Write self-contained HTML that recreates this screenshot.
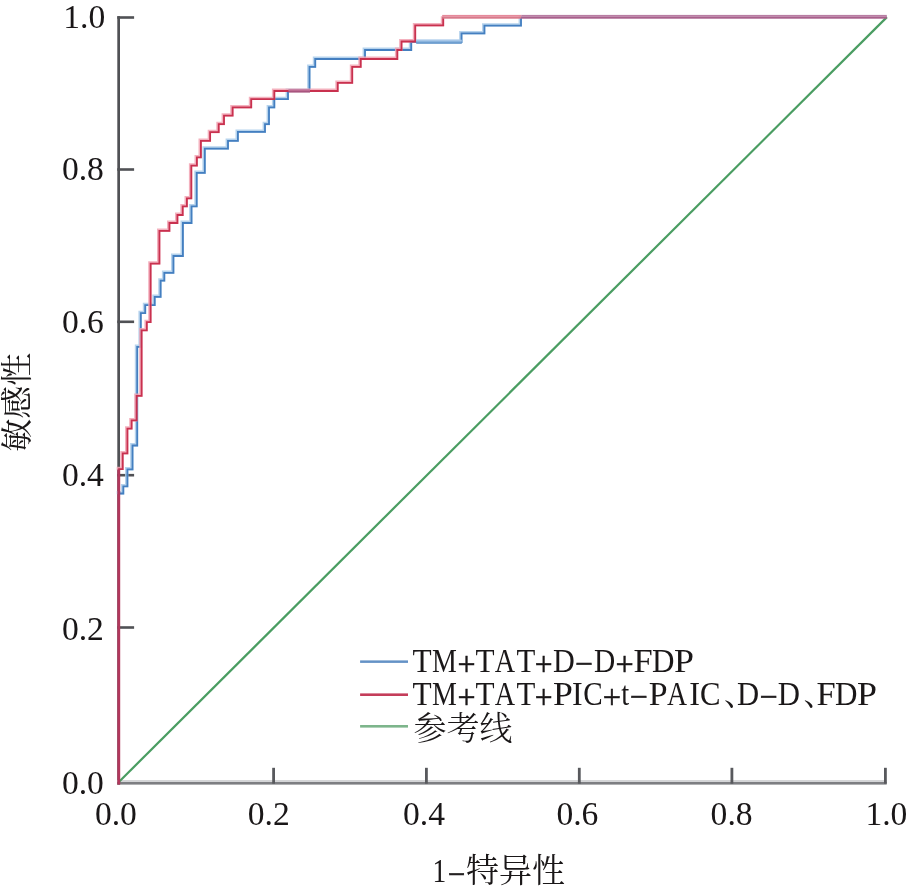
<!DOCTYPE html>
<html lang="zh"><head><meta charset="utf-8"><title>ROC</title>
<style>
html,body{margin:0;padding:0;background:#fff;}
body{width:907px;height:887px;overflow:hidden;}
svg{display:block;will-change:transform;}
text{font-family:"Liberation Serif","Noto Serif CJK SC",serif;}
.cjk{font-family:"Noto Serif CJK SC","Liberation Serif",serif;font-weight:400;}
.lt{font-weight:300;}
</style></head><body>
<svg width="907" height="887" viewBox="0 0 907 887">
<rect width="907" height="887" fill="#fff"/>

<g id="axes">
<rect x="117.3" y="16.2" width="2.7" height="768.4" fill="#505155"/>
<rect x="117.3" y="780.0" width="769.4" height="2.0" fill="#d4d5d7"/>
<rect x="117.3" y="782.0" width="769.4" height="2.6" fill="#7d7e82"/>
<rect x="117.3" y="16.2" width="16.8" height="2.6" fill="#505155"/>
<rect x="117.3" y="168.2" width="16.8" height="2.6" fill="#505155"/>
<rect x="117.3" y="320.5" width="16.8" height="2.6" fill="#505155"/>
<rect x="117.3" y="473.9" width="16.8" height="2.6" fill="#505155"/>
<rect x="117.3" y="626.2" width="16.8" height="2.6" fill="#505155"/>
<rect x="272.2" y="767.8" width="2.8" height="15.9" fill="#58595d"/>
<rect x="425.0" y="767.8" width="2.8" height="15.9" fill="#58595d"/>
<rect x="577.9" y="767.8" width="2.8" height="15.9" fill="#58595d"/>
<rect x="730.5" y="767.8" width="2.8" height="15.9" fill="#58595d"/>
<rect x="884.0" y="767.8" width="2.8" height="15.9" fill="#58595d"/>
</g>
<line x1="118.6" y1="782.2" x2="886.9" y2="17.1" stroke="#4a9d62" stroke-width="2.2"/>
<g fill="none" stroke-linejoin="miter">
<path d="M119.1 495.0 V493.5 H123.3 V486.3 H127.4 V469.4 H132.5 V445.5 H137.2 V346.8 H140.8 V313.1 H145.2 V305.1 H154.7 V296.9 H160.6 V280.7 H164.3 V272.8 H173.4 V256.0 H182.9 V223.0 H191.5 V206.3 H196.7 V172.9 H204.8 V148.7 H228.0 V140.8 H237.9 V131.9 H265.0 V124.2 H269.0 V107.4 H274.3 V99.1 H288.0 V91.0 H309.5 V66.9 H315.2 V59.0 H365.0 V50.0 H411.2 V42.0 H461.5 V33.4 H484.4 V25.6 H521.0 V16.9" stroke="#a9cbea" stroke-width="3.4" transform="translate(-0.7 -0.7)" stroke-opacity="0.85"/>
<path d="M119.1 495.0 V493.5 H123.3 V486.3 H127.4 V469.4 H132.5 V445.5 H137.2 V346.8 H140.8 V313.1 H145.2 V305.1 H154.7 V296.9 H160.6 V280.7 H164.3 V272.8 H173.4 V256.0 H182.9 V223.0 H191.5 V206.3 H196.7 V172.9 H204.8 V148.7 H228.0 V140.8 H237.9 V131.9 H265.0 V124.2 H269.0 V107.4 H274.3 V99.1 H288.0 V91.0 H309.5 V66.9 H315.2 V59.0 H365.0 V50.0 H411.2 V42.0 H461.5 V33.4 H484.4 V25.6 H521.0 V16.9" stroke="#447fc0" stroke-width="1.8"/>
<path d="M119.1 471.0 V469.1 H122.7 V453.4 H127.4 V428.6 H131.6 V420.4 H136.6 V395.8 H141.6 V330.3 H146.8 V322.1 H150.6 V263.6 H159.4 V230.9 H169.4 V223.0 H177.4 V215.0 H182.7 V206.3 H186.9 V198.3 H191.3 V165.6 H196.9 V157.3 H200.9 V140.8 H210.1 V132.2 H218.7 V124.2 H224.0 V115.6 H232.6 V107.4 H251.2 V99.1 H274.3 V91.0 H337.7 V82.8 H352.2 V66.9 H360.7 V59.0 H397.3 V50.0 H401.5 V41.5 H415.2 V25.4 H443.2 V16.9" stroke="#f2a3b3" stroke-width="3.4" transform="translate(-0.7 -0.7)" stroke-opacity="0.85"/>
<path d="M119.1 471.0 V469.1 H122.7 V453.4 H127.4 V428.6 H131.6 V420.4 H136.6 V395.8 H141.6 V330.3 H146.8 V322.1 H150.6 V263.6 H159.4 V230.9 H169.4 V223.0 H177.4 V215.0 H182.7 V206.3 H186.9 V198.3 H191.3 V165.6 H196.9 V157.3 H200.9 V140.8 H210.1 V132.2 H218.7 V124.2 H224.0 V115.6 H232.6 V107.4 H251.2 V99.1 H274.3 V91.0 H337.7 V82.8 H352.2 V66.9 H360.7 V59.0 H397.3 V50.0 H401.5 V41.5 H415.2 V25.4 H443.2 V16.9" stroke="#c42645" stroke-width="1.8" stroke-opacity="0.92"/>
</g>
<rect x="442.2" y="14.9" width="79.4" height="1.9" fill="#e58a9b"/>
<rect x="442.2" y="16.8" width="79.4" height="1.9" fill="#d87a8b"/>
<rect x="521.4" y="14.9" width="365.4" height="1.9" fill="#b87da3"/>
<rect x="521.4" y="16.8" width="365.4" height="1.9" fill="#a8608c"/>
<rect x="288.4" y="89.2" width="21.6" height="1.7" fill="#c0789e"/>
<rect x="288.4" y="90.9" width="21.6" height="1.7" fill="#a8557f"/>
<rect x="416.2" y="39.7" width="45.6" height="2.1" fill="#a7c7e8"/>
<rect x="416.2" y="41.8" width="45.6" height="2.1" fill="#6f9fd0"/>
<rect x="117.3" y="469.5" width="2.9" height="315.1" fill="#b1375c"/>
<g font-size="34.6" fill="#1a1718">
<text transform="translate(63.2 27.9) scale(0.972 1)">1.0</text>
<text transform="translate(61.9 180.0) scale(0.972 1)">0.8</text>
<text transform="translate(61.9 332.9) scale(0.972 1)">0.6</text>
<text transform="translate(61.9 485.9) scale(0.972 1)">0.4</text>
<text transform="translate(61.9 640.0) scale(0.972 1)">0.2</text>
<text transform="translate(61.9 794.0) scale(0.972 1)">0.0</text>
</g>
<g font-size="34.6" fill="#1a1718">
<text transform="translate(94.9 824.6) scale(0.972 1)">0.0</text>
<text transform="translate(247.8 824.6) scale(0.972 1)">0.2</text>
<text transform="translate(403.0 824.6) scale(0.972 1)">0.4</text>
<text transform="translate(556.4 824.6) scale(0.972 1)">0.6</text>
<text transform="translate(710.6 824.6) scale(0.972 1)">0.8</text>
<text transform="translate(865.4 824.6) scale(0.972 1)">1.0</text>
</g>
<text class="cjk" font-size="33" fill="#1a1718" text-anchor="middle" transform="translate(27.6 402.3) rotate(-90) scale(1 0.95)">敏感性</text>
<text font-size="33" fill="#1a1718"><tspan x="432.59" y="882.00" textLength="13.76" lengthAdjust="spacingAndGlyphs">1</tspan><tspan x="447.79" y="885.00" textLength="17.59" lengthAdjust="spacingAndGlyphs" stroke="#1a1718" stroke-width="0.5">−</tspan><tspan class="cjk" font-size="33" x="466.00" y="881.50">特异性</tspan></text>
<g id="legend">
<rect x="360.1" y="660.4" width="47.9" height="2.5" fill="#6492c6"/>
<rect x="360.1" y="693.4" width="47.9" height="2.6" fill="#c43d5a"/>
<rect x="360.1" y="725.0" width="47.9" height="2.6" fill="#7db58b"/>
<text font-size="33.5" fill="#1a1718"><tspan x="412.55" y="672.00" textLength="19.15" lengthAdjust="spacingAndGlyphs">T</tspan><tspan x="431.96" y="672.00" textLength="24.85" lengthAdjust="spacingAndGlyphs">M</tspan><tspan x="457.55" y="675.00" textLength="18.07" lengthAdjust="spacingAndGlyphs" stroke="#1a1718" stroke-width="0.5">+</tspan><tspan x="475.45" y="672.00" textLength="19.04" lengthAdjust="spacingAndGlyphs">T</tspan><tspan x="494.82" y="672.00" textLength="20.39" lengthAdjust="spacingAndGlyphs">A</tspan><tspan x="516.46" y="672.00" textLength="18.83" lengthAdjust="spacingAndGlyphs">T</tspan><tspan x="534.67" y="675.00" textLength="17.83" lengthAdjust="spacingAndGlyphs" stroke="#1a1718" stroke-width="0.5">+</tspan><tspan x="553.09" y="672.00" textLength="21.80" lengthAdjust="spacingAndGlyphs">D</tspan><tspan x="575.17" y="675.00" textLength="17.83" lengthAdjust="spacingAndGlyphs" stroke="#1a1718" stroke-width="0.5">−</tspan><tspan x="594.02" y="672.00" textLength="21.25" lengthAdjust="spacingAndGlyphs">D</tspan><tspan x="615.54" y="675.00" textLength="18.19" lengthAdjust="spacingAndGlyphs" stroke="#1a1718" stroke-width="0.5">+</tspan><tspan x="633.47" y="672.00" textLength="19.18" lengthAdjust="spacingAndGlyphs">F</tspan><tspan x="652.07" y="672.00" textLength="22.47" lengthAdjust="spacingAndGlyphs">D</tspan><tspan x="673.92" y="672.00" textLength="19.95" lengthAdjust="spacingAndGlyphs">P</tspan></text>
<text font-size="33.5" fill="#1a1718"><tspan x="412.55" y="704.90" textLength="19.15" lengthAdjust="spacingAndGlyphs">T</tspan><tspan x="431.96" y="704.90" textLength="24.85" lengthAdjust="spacingAndGlyphs">M</tspan><tspan x="457.55" y="707.90" textLength="18.07" lengthAdjust="spacingAndGlyphs" stroke="#1a1718" stroke-width="0.5">+</tspan><tspan x="475.45" y="704.90" textLength="19.04" lengthAdjust="spacingAndGlyphs">T</tspan><tspan x="494.82" y="704.90" textLength="20.39" lengthAdjust="spacingAndGlyphs">A</tspan><tspan x="516.46" y="704.90" textLength="18.83" lengthAdjust="spacingAndGlyphs">T</tspan><tspan x="534.67" y="707.90" textLength="17.83" lengthAdjust="spacingAndGlyphs" stroke="#1a1718" stroke-width="0.5">+</tspan><tspan x="552.93" y="704.90" textLength="19.84" lengthAdjust="spacingAndGlyphs">P</tspan><tspan x="572.08" y="704.90" textLength="10.66" lengthAdjust="spacingAndGlyphs">I</tspan><tspan x="583.23" y="704.90" textLength="19.46" lengthAdjust="spacingAndGlyphs">C</tspan><tspan x="602.83" y="707.90" textLength="18.31" lengthAdjust="spacingAndGlyphs" stroke="#1a1718" stroke-width="0.5">+</tspan><tspan x="621.31" y="704.90" textLength="7.94" lengthAdjust="spacingAndGlyphs">t</tspan><tspan x="630.06" y="707.90" textLength="17.95" lengthAdjust="spacingAndGlyphs" stroke="#1a1718" stroke-width="0.5">−</tspan><tspan x="648.79" y="704.90" textLength="18.81" lengthAdjust="spacingAndGlyphs">P</tspan><tspan x="666.92" y="704.90" textLength="20.08" lengthAdjust="spacingAndGlyphs">A</tspan><tspan x="689.27" y="704.90" textLength="10.78" lengthAdjust="spacingAndGlyphs">I</tspan><tspan x="699.97" y="704.90" textLength="20.50" lengthAdjust="spacingAndGlyphs">C</tspan><tspan class="cjk" font-size="31" x="724.00" y="704.60">、</tspan><tspan x="737.08" y="704.90" textLength="22.14" lengthAdjust="spacingAndGlyphs">D</tspan><tspan x="759.65" y="707.90" textLength="18.07" lengthAdjust="spacingAndGlyphs" stroke="#1a1718" stroke-width="0.5">−</tspan><tspan x="777.68" y="704.90" textLength="22.25" lengthAdjust="spacingAndGlyphs">D</tspan><tspan class="cjk" font-size="31" x="803.60" y="704.60">、</tspan><tspan x="816.47" y="704.90" textLength="19.18" lengthAdjust="spacingAndGlyphs">F</tspan><tspan x="835.07" y="704.90" textLength="22.47" lengthAdjust="spacingAndGlyphs">D</tspan><tspan x="856.92" y="704.90" textLength="19.95" lengthAdjust="spacingAndGlyphs">P</tspan></text>
<text class="cjk lt" font-size="33" fill="#1a1718" x="413.5" y="740.3">参考线</text>
</g>
</svg></body></html>
